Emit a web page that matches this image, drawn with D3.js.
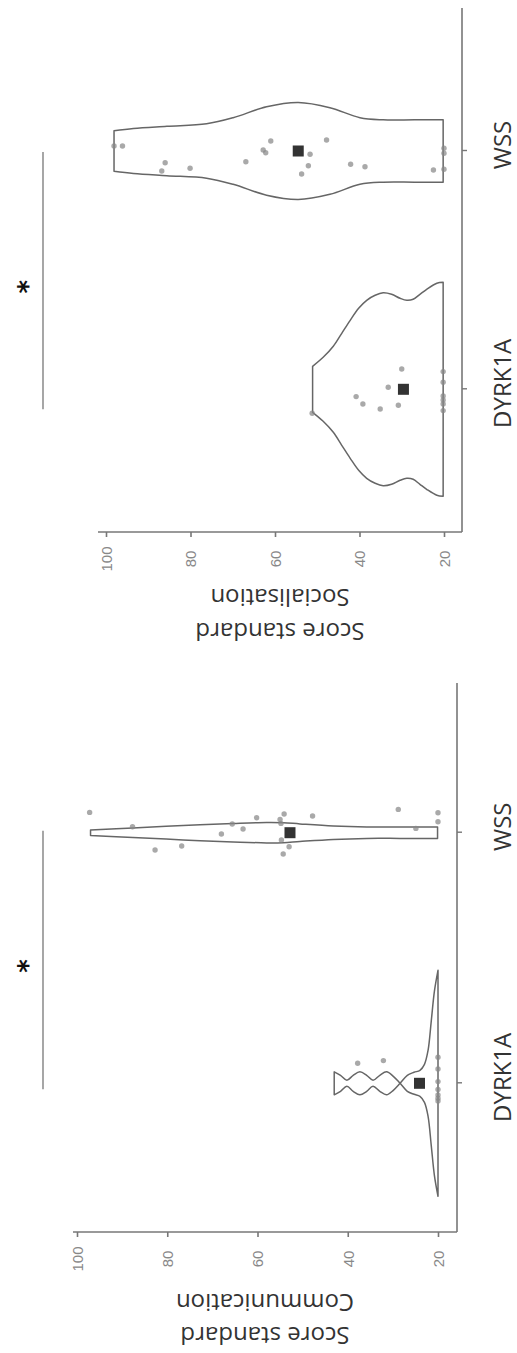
<!DOCTYPE html>
<html><head><meta charset="utf-8">
<script src="https://cdn.jsdelivr.net/npm/d3@7"></script>
<style>html,body{margin:0;padding:0;background:#fff;} svg{display:block;}</style>
</head><body>
<svg id="chart" width="517" height="1353"></svg>
<script>
// ---------------- DATA ----------------
const categories = ["DYRK1A", "WSS"];
const valueTicks = [20, 40, 60, 80, 100];
const commTitle = ["Score standard", "Communication"];
const socTitle = ["Score standard", "Socialisation"];
const significance = "*";

// violin outlines: [score, relative half-width]
const commDyrkViolin = [[43.0,0.115],[41.6,0.08],[40.2,0.03],[38.8,0.08],[37.3,0.115],[35.8,0.08],[34.4,0.03],[32.9,0.08],[31.4,0.115],[29.9,0.07],[28.4,0.0],[26.8,-0.08],[25.3,-0.11],[24.0,-0.13],[23.0,-0.19],[22.2,-0.33],[21.5,-0.62],[20.8,-0.92],[20.0,-1.13]];
const commWssViolin = [[97.0,0.028],[87.6,0.047],[76.5,0.072],[65.4,0.092],[58.0,0.102],[54.3,0.10],[50.6,0.088],[43.2,0.067],[35.8,0.057],[28.4,0.057],[20.1,0.058]];
const socDyrkViolin = [[51.1,0.23],[48.6,0.32],[46.2,0.43],[44.2,0.56],[42.2,0.69],[40.2,0.81],[38.3,0.89],[36.3,0.94],[34.4,0.965],[32.4,0.95],[30.4,0.91],[28.8,0.89],[27.3,0.90],[25.7,0.95],[24.1,1.0],[21.7,1.06],[20.2,1.07]];
const socWssViolin = [[98.1,0.203],[93.5,0.225],[85.6,0.247],[76.2,0.272],[69.9,0.333],[62.0,0.442],[54.5,0.485],[47.0,0.433],[39.9,0.333],[34.4,0.312],[27.0,0.312],[20.2,0.312]];

// individual scores: [score, jitter]
const commDyrkPoints = [[37.8,-0.20],[32.1,-0.227],[20.0,-0.26],[20.0,-0.143],[20.0,-0.017],[20.0,0.062],[20.0,0.117],[20.0,0.15],[20.0,0.177]];
const commWssPoints = [[97.2,-0.203],[87.7,-0.06],[82.7,0.173],[76.8,0.133],[68.0,0.013],[65.6,-0.087],[63.2,-0.037],[60.2,-0.15],[55.0,-0.133],[54.8,-0.093],[54.1,-0.187],[54.7,0.073],[53.0,0.14],[54.3,0.213],[47.8,-0.167],[28.8,-0.233],[24.9,-0.043],[20.0,-0.20],[20.0,-0.11]];
const socDyrkPoints = [[51.2,0.24],[30.0,-0.203],[33.2,-0.02],[40.8,0.073],[39.2,0.147],[35.1,0.197],[30.8,0.16],[20.2,-0.177],[20.2,-0.07],[20.2,0.067],[20.2,0.107],[20.2,0.147],[20.2,0.213]];
const socWssPoints = [[98.1,-0.05],[96.1,-0.05],[86.0,0.117],[86.8,0.20],[80.1,0.173],[66.9,0.107],[62.8,-0.01],[62.2,0.017],[61.0,-0.10],[51.7,0.033],[52.1,0.147],[53.7,0.23],[47.8,-0.11],[42.1,0.133],[38.7,0.157],[22.5,0.19],[20.0,0.183],[20.0,-0.027],[20.0,0.023]];

// group means
const commMeans = [24.1, 52.8];
const socMeans = [29.6, 54.5];

// ---------------- LAYOUT (chart drawn landscape, then rotated) ----------------
const W = 1353, H = 517;
const svg = d3.select("#chart");
const root = svg.append("g").attr("transform", `translate(0,${W}) rotate(-90)`);

const panels = [
  { title: commTitle, violins: [commDyrkViolin, commWssViolin], points: [commDyrkPoints, commWssPoints], means: commMeans,
    catRange: [269.7, 520.3], valRange: [438, 77], axisX: 121, axisTop: 73, baseY: 457, catEnd: 670,
    sigPad: [-6, 2], titleX: [17, 50] },
  { title: socTitle, violins: [socDyrkViolin, socWssViolin], points: [socDyrkPoints, socWssPoints], means: socMeans,
    catRange: [963.7, 1202], valRange: [444, 106], axisX: 821, axisTop: 98, baseY: 462, catEnd: 1345,
    sigPad: [-20, -1], titleX: [721, 755] }
];

const w = d3.scaleLinear().domain([0, 1]).range([0, 100]);
const line = d3.line().curve(d3.curveCatmullRom.alpha(0.5));
const axisColor = "#777";

function violinPath(profile, cx, y) {
  const left = profile.map(([v, d]) => [cx - w(d), y(v)]);
  const right = profile.map(([v, d]) => [cx + w(d), y(v)]).reverse();
  return line(left) + line(right).replace(/^M/, "L") + "Z";
}

panels.forEach(p => {
  const g = root.append("g");
  const x = d3.scalePoint().domain(categories).range(p.catRange);
  const y = d3.scaleLinear().domain([20, 100]).range(p.valRange);

  // value axis (vertical in landscape)
  g.append("line").attr("x1", p.axisX).attr("x2", p.axisX).attr("y1", p.axisTop).attr("y2", p.baseY)
    .attr("stroke", axisColor).attr("stroke-width", 1.6);
  const yAxis = d3.axisLeft(y).tickValues(valueTicks).tickSize(5).tickPadding(0).tickFormat(d3.format("d"));
  const ya = g.append("g").attr("transform", `translate(${p.axisX},0)`).call(yAxis);
  ya.select(".domain").remove();
  ya.selectAll(".tick line").attr("stroke", axisColor).attr("stroke-width", 1.6);
  ya.selectAll(".tick text").attr("x", -27).attr("text-anchor", "middle").attr("dy", "0.36em")
    .attr("fill", "#888").style("font-family", "'Liberation Sans', Arial, sans-serif").style("font-size", "15px");

  // category axis
  g.append("line").attr("x1", p.axisX).attr("x2", p.catEnd).attr("y1", p.baseY).attr("y2", p.baseY)
    .attr("stroke", axisColor).attr("stroke-width", 1.6);
  const xAxis = d3.axisBottom(x).tickSize(5).tickFormat("");
  const xa = g.append("g").attr("transform", `translate(0,${p.baseY})`).call(xAxis);
  xa.select(".domain").remove();
  xa.selectAll(".tick line").attr("stroke", axisColor).attr("stroke-width", 1.4);
  g.selectAll(".catlab").data(categories).join("text").attr("class", "catlab")
    .attr("x", d => x(d) + 6).attr("y", 511).attr("text-anchor", "middle")
    .attr("fill", "#333").style("font-family", "'Open Sans', sans-serif").style("font-size", "24px")
    .text(d => d);

  // axis title (two lines, rotated)
  p.title.forEach((t, i) => {
    g.append("text").attr("transform", `translate(${p.titleX[i]},${(p.axisTop + p.baseY) / 2}) rotate(-90)`)
      .attr("text-anchor", "middle").attr("dy", "0.36em").attr("fill", "#333")
      .style("font-family", "'Open Sans', sans-serif").style("font-size", "24px").text(t);
  });

  // violins
  categories.forEach((c, i) => {
    g.append("path").attr("d", violinPath(p.violins[i], x(c), y))
      .attr("fill", "none").attr("stroke", "#666").attr("stroke-width", 1.5).attr("stroke-linejoin", "round");
    g.selectAll(null).data(p.points[i]).join("circle")
      .attr("cx", d => x(c) - w(d[1])).attr("cy", d => y(d[0])).attr("r", 2.7)
      .attr("fill", "#888").attr("fill-opacity", 0.72);
    g.append("rect").attr("x", x(c) - 5.5).attr("y", y(p.means[i]) - 5.5).attr("width", 11).attr("height", 11)
      .attr("fill", "#333");
  });

  // significance bar
  const s0 = x(categories[0]) + p.sigPad[0], s1 = x(categories[1]) + p.sigPad[1];
  g.append("line").attr("x1", s0).attr("x2", s1).attr("y1", 43).attr("y2", 43)
    .attr("stroke", "#777").attr("stroke-width", 1.3);
  g.append("text").attr("x", (s0 + s1) / 2 - 6).attr("y", 37).attr("text-anchor", "middle")
    .attr("fill", "#111").style("font-family", "'DejaVu Sans', sans-serif").style("font-weight", "bold")
    .style("font-size", "26px").text(significance);
});
</script>
</body></html>
